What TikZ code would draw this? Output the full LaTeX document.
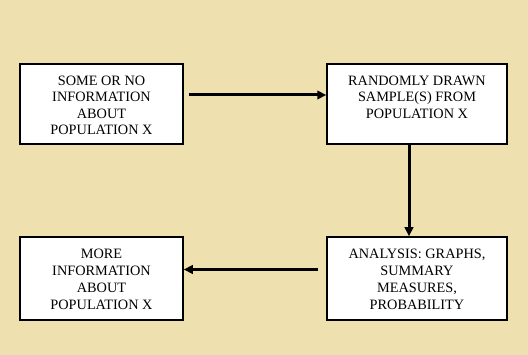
\documentclass[tikz,border=0pt]{standalone}
\usepackage{fontspec}
\setmainfont{Liberation Serif}
\usetikzlibrary{arrows.meta}
\definecolor{bgbeige}{RGB}{239,225,175}
\tikzset{
  box/.style={draw=black, fill=white, line width=1.5pt, inner sep=0pt, minimum width=#1},
  txt/.style={align=center, inner sep=0pt, anchor=north, font=\fontsize{14.3pt}{16.3pt}\selectfont},
  txtb/.style={txt, font=\fontsize{14.3pt}{17pt}\selectfont},
  conn/.style={line width=3pt, -{Triangle[length=9pt,width=8.5pt]}}
}
\begin{document}
\begin{tikzpicture}[x=1pt,y=1pt]
\fill[bgbeige] (0,0) rectangle (528,355);
\useasboundingbox (0,0) rectangle (528,355);
\node[box=163pt, minimum height=80pt] (b1) at (101.5,251) {};
\node[box=180pt, minimum height=80pt] (b2) at (417,251) {};
\node[box=180pt, minimum height=83pt] (b3) at (417,76.5) {};
\node[box=163pt, minimum height=83pt] (b4) at (101.5,76.5) {};
\node[txt] (t1) at ([yshift=-12.5pt]b1.north) {SOME OR NO\\INFORMATION\\ABOUT\\POPULATION X};
\node[txt] (t2) at ([yshift=-12.5pt]b2.north) {RANDOMLY DRAWN\\SAMPLE(S) FROM\\POPULATION X};
\node[txtb] (t3) at ([yshift=-13pt]b3.north) {ANALYSIS: GRAPHS,\\SUMMARY\\MEASURES,\\PROBABILITY};
\node[txtb] (t4) at ([yshift=-13pt]b4.north) {MORE\\INFORMATION\\ABOUT\\POPULATION X};
\coordinate (c1) at ([xshift=5pt,yshift=9pt]b1.east);
\draw[conn] (c1) -- (c1 -| b2.west);
\coordinate (c2) at ([xshift=-8pt]b2.south);
\draw[conn] (c2) -- (c2 |- b3.north);
\coordinate (c3) at ([xshift=-8pt,yshift=9pt]b3.west);
\draw[conn] (c3) -- (c3 -| b4.east);
\end{tikzpicture}
\end{document}
